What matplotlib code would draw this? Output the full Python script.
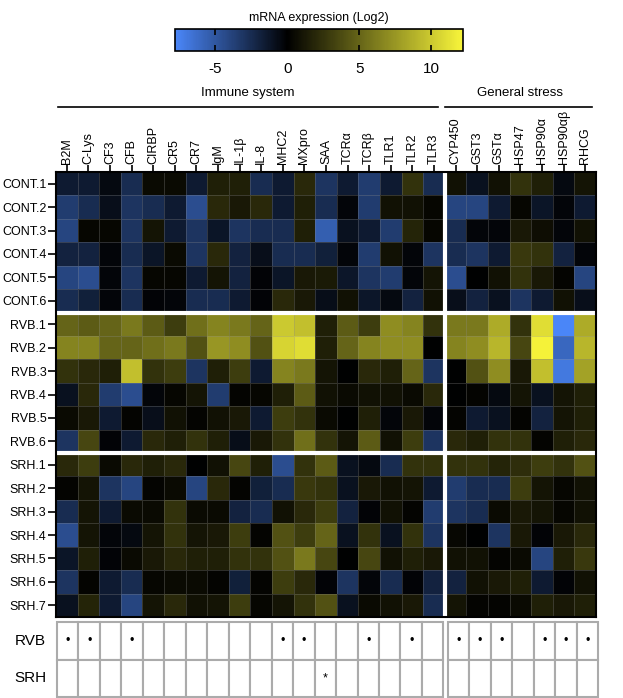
import numpy as np
import matplotlib
matplotlib.use("Agg")
import matplotlib.pyplot as plt
from matplotlib.colors import LinearSegmentedColormap, Normalize
from matplotlib.patches import Rectangle

plt.rcParams["font.family"] = ["Liberation Sans", "DejaVu Sans"]
plt.rcParams["axes.unicode_minus"] = False

genes = ["B2M", "C-Lys", "CF3", "CFB", "CIRBP", "CR5", "CR7", "IgM", "IL-1β", "IL-8",
         "MHC2", "MXpro", "SAA", "TCRα", "TCRβ", "TLR1", "TLR2", "TLR3",
         "CYP450", "GST3", "GSTα", "HSP47", "HSP90α", "HSP90αβ", "RHCG"]
n_immune = 18

samples = ["CONT.1", "CONT.2", "CONT.3", "CONT.4", "CONT.5", "CONT.6",
           "RVB.1", "RVB.2", "RVB.3", "RVB.4", "RVB.5", "RVB.6",
           "SRH.1", "SRH.2", "SRH.3", "SRH.4", "SRH.5", "SRH.6", "SRH.7"]

# log2 expression, one list per sample (immune genes then general stress genes)
cont = [
    [-1.5, -1.5, -0.5, -2.5, 0.5, 0.5, -1.5, 1.5, 1.5, -2.5, -1.5, 2.0, -3.0, -1.5, -3.5, -1.5, 2.5, -2.5, 0.8, -1.0, 0.8, 2.5, 1.5, -0.5, 1.0],
    [-3.5, -2.5, -0.8, -3.0, -2.5, -1.5, -4.5, 2.0, 1.2, 2.0, -1.5, 1.5, -2.5, -0.3, -3.5, 0.8, 0.8, 0.3, -4.0, -4.0, -1.5, 0.3, -1.2, -0.3, -1.5],
    [-4.0, 0.3, 0.3, -3.0, 1.0, -1.5, -3.0, -1.2, -3.0, -2.5, -2.5, 1.5, -5.5, -1.0, -1.5, -3.5, 1.8, 0.3, -2.5, -0.3, -0.3, 1.2, 0.7, -0.3, 0.8],
    [-2.0, -2.0, -0.3, -2.5, -1.2, 0.5, -3.0, 2.0, -2.0, -0.8, -2.5, -2.5, -1.8, -0.3, -3.5, 0.8, -0.3, -3.0, -2.5, -3.0, -1.5, 2.8, 2.5, -2.0, -0.3],
    [-4.0, -4.5, -0.3, -3.0, 0.3, 0.3, -1.5, 1.0, -2.0, -0.2, -1.2, 1.2, 1.3, -1.3, -3.0, -3.5, -0.3, 1.0, -4.5, 0.0, 0.8, 2.5, 1.2, 0.2, -4.0],
    [-2.5, -1.8, -0.3, -2.5, -0.2, -0.3, -2.5, -2.5, -1.5, -0.2, 2.0, 1.2, -0.7, 0.8, -1.3, -0.5, -2.0, 0.8, -0.8, -2.0, -1.0, -3.0, -1.5, 0.8, -0.8],
]
rvb = [
    [5.0, 4.5, 5.0, 6.0, 4.5, 3.0, 5.5, 6.5, 6.0, 5.0, 10.0, 9.5, 1.5, 4.5, 3.0, 7.0, 6.5, 2.5, 6.0, 6.0, 8.5, 2.5, 11.0, -7.8, 8.5],
    [6.5, 6.5, 5.0, 5.0, 5.5, 6.0, 4.0, 7.5, 7.0, 4.0, 10.5, 11.0, 1.5, 5.0, 6.5, 7.0, 7.0, 0.0, 6.5, 7.0, 9.0, 3.5, 12.0, -6.0, 9.0],
    [2.5, 2.0, 1.5, 9.5, 2.5, 3.0, -3.0, 1.5, 3.0, -1.5, 6.5, 6.0, 1.0, 0.0, 2.0, 1.5, 5.0, -3.0, 0.0, 4.0, 7.0, 1.2, 9.5, -7.0, 8.0],
    [-1.0, 2.0, -3.5, -4.5, -0.3, 0.3, 1.0, -3.5, 0.2, 0.3, 1.5, 4.5, 0.8, 0.5, 0.8, 0.8, 0.5, 2.0, 0.0, 0.2, -0.5, 1.0, -1.0, 1.0, 1.5],
    [0.5, 1.2, -1.5, 0.2, -0.8, 0.8, 0.2, 0.8, 1.2, -1.5, 3.0, 2.5, 0.5, 0.0, 1.5, -0.3, 1.2, -0.3, 0.2, -1.5, -1.0, 0.2, -2.0, 1.0, 1.5],
    [-3.0, 3.5, -0.2, -1.5, 2.0, 1.5, 2.5, 1.5, -0.7, 1.2, 2.5, 5.5, 2.5, 1.0, 4.5, 0.8, 3.0, -3.0, 2.0, 1.5, 2.5, 2.5, 0.2, 1.5, 2.0],
]
srh = [
    [2.0, 3.0, 0.5, 2.0, 1.5, 2.0, 0.0, 0.8, 3.5, 1.5, -4.5, 2.5, 4.5, -1.0, -0.5, -2.5, 2.5, 2.5, 2.5, 2.5, 1.8, 2.2, 3.0, 2.5, 4.0],
    [0.2, 1.0, -3.0, -4.0, 0.2, 0.5, -4.0, 2.0, 0.2, -1.8, -2.5, 2.8, 2.5, -1.0, 1.2, 0.8, 1.0, -1.5, -3.5, -2.5, -2.5, 3.0, 1.0, 0.3, 0.8],
    [-2.5, 1.0, -1.5, 0.5, 0.5, 2.5, 0.5, 0.5, -2.0, -2.5, 0.8, 2.0, 3.0, -2.0, -0.2, 0.8, 0.2, -3.5, -3.0, -2.5, 0.5, 1.2, 1.0, 0.3, 0.8],
    [-4.5, 1.0, -0.3, -0.5, 1.0, 2.5, 1.0, 1.2, 3.0, 0.2, 4.0, 3.0, 5.0, -1.0, 2.5, -1.0, 2.5, -3.0, 0.4, 0.0, -3.0, 1.2, -0.2, 1.2, 2.0],
    [-1.2, 1.5, -0.2, 0.5, 1.2, 2.0, 1.5, 1.5, 2.5, 2.5, 4.0, 6.0, 3.5, 0.0, 3.5, 0.8, 1.5, 1.2, 0.8, 0.8, 0.2, 0.5, -4.0, 1.5, 2.8],
    [-3.0, 0.2, -1.5, -2.5, 0.3, 0.5, 0.5, 0.2, -1.8, 0.2, 3.0, 2.0, -0.2, -3.0, -0.3, -2.5, -0.2, -2.0, -2.0, 0.8, 1.2, 1.5, -1.5, -0.2, 0.8],
    [-1.0, 1.8, -1.5, -4.0, 1.0, 2.0, 0.8, 1.0, 3.0, 0.3, 1.0, 2.5, 4.0, -1.0, 0.5, 0.8, 1.2, -2.5, 1.0, 0.2, 0.2, 0.5, 1.5, 1.2, 1.5],
]

# genes marked significant in the table under the heatmap
rvb_sig = ["B2M", "C-Lys", "CFB", "MHC2", "MXpro", "TCRβ", "TLR2",
           "CYP450", "GST3", "GSTα", "HSP90α", "HSP90αβ", "RHCG"]
srh_sig = ["SAA"]

cbar_ticks = [-5, 0, 5, 10]


def main():
    data = np.array(cont + rvb + srh)
    n_rows, n_cols = data.shape

    vmin, vmax = -7.8, 12.2
    cmap = LinearSegmentedColormap.from_list(
        "blue_black_yellow",
        [(0.0, "#4a86f8"), (-vmin / (vmax - vmin), "#000000"), (1.0, "#f8f53a")],
    )
    norm = Normalize(vmin=vmin, vmax=vmax)

    fig = plt.figure(figsize=(6.23, 6.98), dpi=100)

    # heatmap
    ax = fig.add_axes([56 / 623, 1 - 617 / 698, 540 / 623, 445 / 698])
    mesh = ax.pcolormesh(
        np.arange(n_cols + 1), np.arange(n_rows + 1), data,
        cmap=cmap, norm=norm,
        edgecolors=(0.55, 0.55, 0.55, 0.3), linewidth=0.6,
    )
    ax.set_xlim(0, n_cols)
    ax.set_ylim(n_rows, 0)

    ax.axvline(n_immune, color="white", lw=3)
    ax.axhline(6, color="white", lw=3)
    ax.axhline(12, color="white", lw=3)

    ax.set_xticks(np.arange(n_cols) + 0.5)
    ax.set_xticklabels(genes, rotation=90, fontsize=9)
    ax.xaxis.tick_top()
    ax.tick_params(axis="x", length=5, width=1.2, pad=1)
    ax.set_yticks(np.arange(n_rows) + 0.5)
    ax.set_yticklabels(samples, fontsize=9)
    ax.tick_params(axis="y", length=6, width=1.2, pad=1)
    for sp in ax.spines.values():
        sp.set_linewidth(1.5)

    # group headers
    trans = ax.get_xaxis_transform()
    ax.plot([0.1, 17.7], [1.146, 1.146], color="black", lw=1.2,
            transform=trans, clip_on=False)
    ax.text(8.9, 1.178, "Immune system", transform=trans,
            ha="center", va="center", fontsize=9.5)
    ax.plot([18.0, 24.8], [1.146, 1.146], color="black", lw=1.2,
            transform=trans, clip_on=False)
    ax.text(21.5, 1.178, "General stress", transform=trans,
            ha="center", va="center", fontsize=9.5)

    # colorbar
    cax = fig.add_axes([175 / 623, 1 - 51 / 698, 288 / 623, 22 / 698])
    cb = fig.colorbar(mesh, cax=cax, orientation="horizontal", ticks=cbar_ticks)
    cb.outline.set_linewidth(1.2)
    cax.tick_params(direction="in", top=True, bottom=True, length=4,
                    width=1.2, labelsize=11, pad=8)
    cax.set_title("mRNA expression (Log2)", fontsize=9, pad=6)

    # significance table
    tax = fig.add_axes([57 / 623, 1 / 698, 541 / 623, 75 / 698])
    gap = 0.2
    for r, sig in enumerate([rvb_sig, srh_sig]):
        for k, gene in enumerate(genes):
            x = k if k < n_immune else k + gap
            tax.add_patch(Rectangle((x, r), 1, 1, facecolor="white",
                                    edgecolor="#ababab", lw=1.5, clip_on=False))
            if gene in sig:
                mark = "•" if r == 0 else "*"
                tax.text(x + 0.5, r + 0.5, mark, ha="center", va="center",
                         fontsize=9)
    tax.text(-1.25, 0.5, "RVB", ha="center", va="center", fontsize=11, clip_on=False)
    tax.text(-1.25, 1.5, "SRH", ha="center", va="center", fontsize=11, clip_on=False)
    tax.set_xlim(0, n_cols + gap)
    tax.set_ylim(2, 0)
    tax.axis("off")

    fig.savefig("out.png", dpi=100)


if __name__ == "__main__":
    main()
